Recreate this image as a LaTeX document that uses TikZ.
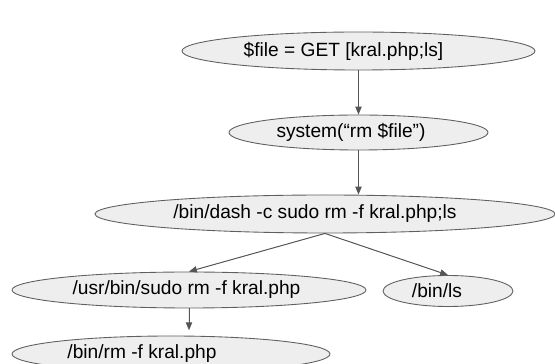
\documentclass[tikz,border=0pt]{standalone}
\usepackage{fontspec}
\setmainfont{Liberation Sans}
\usepackage{tikz}
\usetikzlibrary{shapes.geometric, arrows.meta, positioning}
\usepackage{xcolor}
\definecolor{nodefill}{HTML}{EEEEEE}
\definecolor{nodeline}{HTML}{5F5F5F}
\definecolor{arrowgray}{HTML}{555555}

\begin{document}
\begin{tikzpicture}[
  font=\fontsize{10.9}{13}\selectfont,
  box/.style={ellipse, draw=nodeline, fill=nodefill, line width=0.5pt, inner sep=0pt, align=center},
  arrow/.style={-{Triangle[length=4.5pt, width=3.6pt]}, draw=arrowgray, fill=arrowgray, line width=0.55pt}
]
\useasboundingbox (0,0) rectangle (11.1,-7.28);

\node[box, minimum width=7.06cm, minimum height=0.76cm] (file) at (7.17,-1.02) {\hspace*{-0.6cm}\$file = GET [kral.php;ls]};
\node[box, minimum width=5.18cm, minimum height=0.70cm] (sys) at (7.17,-2.65) {\hspace*{-0.3cm}system(“rm \$file”)};
\node[box, minimum width=9.2cm, minimum height=0.76cm] (dash) at (6.5,-4.28) {\hspace*{-0.4cm}/bin/dash -c sudo rm -f kral.php;ls};
\node[box, minimum width=7.08cm, minimum height=0.72cm] (sudo) at (3.78,-5.8) {\hspace*{-0.1cm}/usr/bin/sudo rm -f kral.php};
\node[box, minimum width=2.6cm, minimum height=0.62cm] (ls) at (8.96,-5.82) {\hspace*{-0.44cm}/bin/ls};
\node[box, minimum width=6.36cm, minimum height=0.72cm] (rm) at (3.42,-7.08) {\hspace*{-1.16cm}/bin/rm -f kral.php};

\draw[arrow] (file) -- (sys);
\draw[arrow] (sys) -- (sys |- dash.north);
\draw[arrow] (dash.south) -- (sudo.north);
\draw[arrow] (dash.south) -- (ls.north);
\draw[arrow] (sudo) -- ([yshift=3pt]sudo |- rm.north);
\end{tikzpicture}
\end{document}
